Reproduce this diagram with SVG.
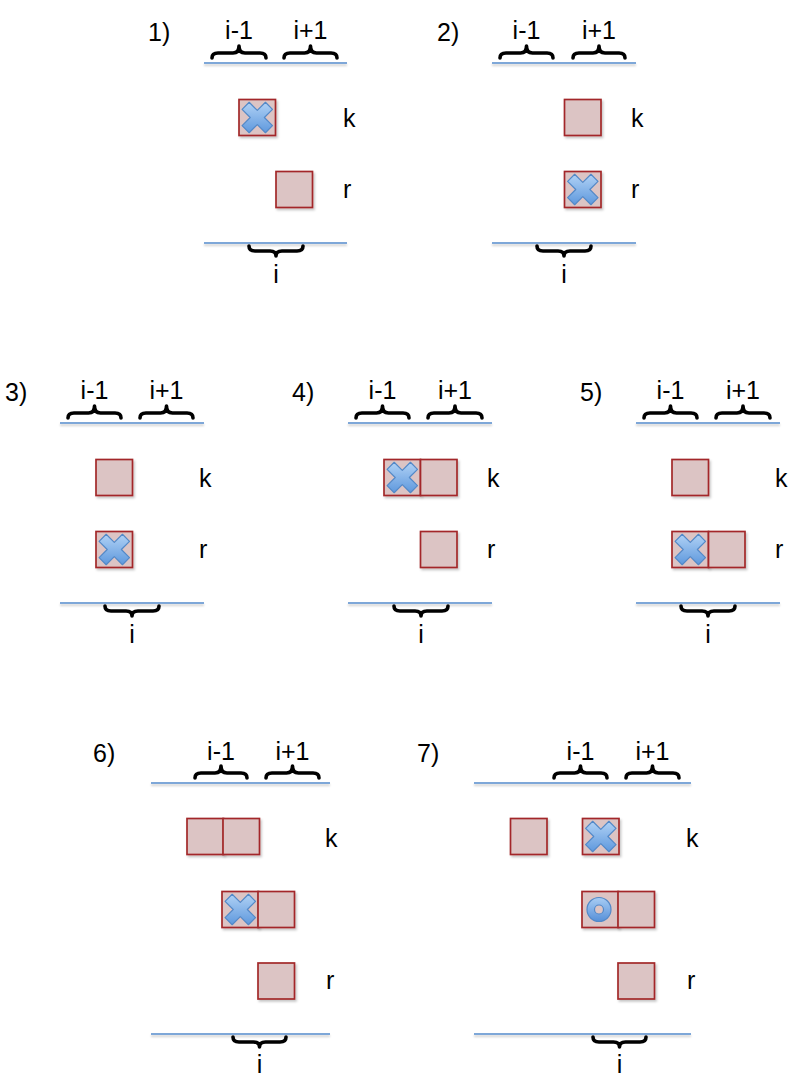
<svg xmlns="http://www.w3.org/2000/svg" xmlns:xlink="http://www.w3.org/1999/xlink" width="799" height="1087" viewBox="0 0 799 1087">
<style>
text{font-family:"Liberation Sans",Arial,sans-serif;font-size:25px;fill:#000}
.m{text-anchor:middle}
.ln{stroke:#7ea7d8;stroke-width:1.8;fill:none}
.br{stroke:#000;stroke-width:3.6;fill:none;stroke-linecap:round;stroke-linejoin:round}
.bx{fill:#dcc4c4;stroke:#a3282a;stroke-width:1.7;filter:url(#sh)}
</style>
<defs>
<filter id="sh" x="-20%" y="-20%" width="150%" height="150%"><feDropShadow dx="1.5" dy="2" stdDeviation="1.2" flood-color="#000" flood-opacity="0.22"/></filter>
<filter id="lsh" x="-5%" y="-200%" width="110%" height="500%"><feDropShadow dx="0" dy="2" stdDeviation="1" flood-color="#000" flood-opacity="0.18"/></filter>
<linearGradient id="bg" x1="0" y1="0" x2="0" y2="1" gradientTransform="rotate(-45 .5 .5)"><stop offset="0" stop-color="#b4d4f6"/><stop offset="1" stop-color="#5b96dc"/></linearGradient>
<linearGradient id="og" x1="0" y1="0" x2="0" y2="1"><stop offset="0" stop-color="#a9cdf4"/><stop offset="1" stop-color="#5690d8"/></linearGradient>
<g id="xm"><path transform="rotate(45)" d="M5,-16.5 L5,-5 L16.5,-5 L16.5,5 L5,5 L5,16.5 L-5,16.5 L-5,5 L-16.5,5 L-16.5,-5 L-5,-5 L-5,-16.5 Z" fill="url(#bg)" stroke="#5389c8" stroke-width="1.2" stroke-linejoin="round"/></g>
<g id="om"><path d="M0,-12 A12,12 0 1,1 0,12 A12,12 0 1,1 0,-12 Z M0,-4.5 A4.5,4.5 0 1,0 0,4.5 A4.5,4.5 0 1,0 0,-4.5 Z" fill="url(#og)" fill-rule="evenodd" stroke="#5389c8" stroke-width="1.2"/></g>
</defs>
<rect width="799" height="1087" fill="#fff"/>

<g id="connectors">
<g filter="url(#lsh)">
<line class="ln" x1="204" y1="63" x2="347" y2="63"/><line class="ln" x1="204" y1="243" x2="347" y2="243"/>
<line class="ln" x1="492" y1="63" x2="636" y2="63"/><line class="ln" x1="492" y1="243" x2="636" y2="243"/>
<line class="ln" x1="60" y1="423" x2="204" y2="423"/><line class="ln" x1="60" y1="603" x2="204" y2="603"/>
<line class="ln" x1="348" y1="423" x2="492" y2="423"/><line class="ln" x1="348" y1="603" x2="492" y2="603"/>
<line class="ln" x1="636" y1="423" x2="780" y2="423"/><line class="ln" x1="636" y1="603" x2="780" y2="603"/>
<line class="ln" x1="151" y1="783" x2="330" y2="783"/><line class="ln" x1="151" y1="1034" x2="330" y2="1034"/>
<line class="ln" x1="474" y1="783" x2="691" y2="783"/><line class="ln" x1="474" y1="1034" x2="691" y2="1034"/>
</g>
</g>

<g id="panel1">
<text x="148" y="41">1)</text>
<text class="m" x="239" y="39">i-1</text><text class="m" x="310.5" y="39">i+1</text>
<path class="br" d="M212 58 Q212 53 218 53 H233 Q239 53 239 46 Q239 53 245 53 H260 Q266 53 266 58"/>
<path class="br" d="M284 58 Q284 53 290 53 H304.5 Q310.5 53 310.5 46 Q310.5 53 316.5 53 H331 Q337 53 337 58"/>
<rect class="bx" x="239" y="99.5" width="36.5" height="36"/><use xlink:href="#xm" x="257.3" y="117.5"/>
<rect class="bx" x="276" y="171.5" width="36.5" height="36"/>
<text x="343" y="127">k</text><text x="343" y="198">r</text>
<path class="br" d="M249 246 Q249 251 255 251 H270 Q276 251 276 256 Q276 251 282 251 H297 Q303 251 303 246"/>
<text class="m" x="276" y="283">i</text>
</g>

<g id="panel2">
<text x="437" y="41">2)</text>
<text class="m" x="526.5" y="39">i-1</text><text class="m" x="599" y="39">i+1</text>
<path class="br" d="M500 58 Q500 53 506 53 H520.5 Q526.5 53 526.5 46 Q526.5 53 532.5 53 H547 Q553 53 553 58"/>
<path class="br" d="M573 58 Q573 53 579 53 H593 Q599 53 599 46 Q599 53 605 53 H619 Q625 53 625 58"/>
<rect class="bx" x="564.5" y="99.5" width="36.5" height="36"/>
<rect class="bx" x="564.5" y="171.5" width="36.5" height="36"/><use xlink:href="#xm" x="582.8" y="189.5"/>
<text x="631" y="127">k</text><text x="631" y="198">r</text>
<path class="br" d="M537 246 Q537 251 543 251 H558 Q564 251 564 256 Q564 251 570 251 H585 Q591 251 591 246"/>
<text class="m" x="564" y="283">i</text>
</g>

<g id="panel3">
<text x="5" y="401">3)</text>
<text class="m" x="94.5" y="399">i-1</text><text class="m" x="166.5" y="399">i+1</text>
<path class="br" d="M68 418 Q68 413 74 413 H88.5 Q94.5 413 94.5 406 Q94.5 413 100.5 413 H115 Q121 413 121 418"/>
<path class="br" d="M140 418 Q140 413 146 413 H160.5 Q166.5 413 166.5 406 Q166.5 413 172.5 413 H187 Q193 413 193 418"/>
<rect class="bx" x="96" y="459.5" width="36.5" height="36"/>
<rect class="bx" x="96" y="531.5" width="36.5" height="36"/><use xlink:href="#xm" x="114.3" y="549.5"/>
<text x="199" y="487">k</text><text x="199" y="558">r</text>
<path class="br" d="M105 606 Q105 611 111 611 H126 Q132 611 132 616 Q132 611 138 611 H153 Q159 611 159 606"/>
<text class="m" x="132" y="643">i</text>
</g>

<g id="panel4">
<text x="292" y="401">4)</text>
<text class="m" x="382.5" y="399">i-1</text><text class="m" x="455" y="399">i+1</text>
<path class="br" d="M356 418 Q356 413 362 413 H376.5 Q382.5 413 382.5 406 Q382.5 413 388.5 413 H403 Q409 413 409 418"/>
<path class="br" d="M428 418 Q428 413 434 413 H449 Q455 413 455 406 Q455 413 461 413 H476 Q482 413 482 418"/>
<rect class="bx" x="384" y="459.5" width="36.5" height="36"/><use xlink:href="#xm" x="402.3" y="477.5"/>
<rect class="bx" x="420.5" y="459.5" width="36.5" height="36"/>
<rect class="bx" x="420.5" y="531.5" width="36.5" height="36"/>
<text x="487" y="487">k</text><text x="487" y="558">r</text>
<path class="br" d="M394 606 Q394 611 400 611 H415 Q421 611 421 616 Q421 611 427 611 H442 Q448 611 448 606"/>
<text class="m" x="421" y="643">i</text>
</g>

<g id="panel5">
<text x="580" y="401">5)</text>
<text class="m" x="670.5" y="399">i-1</text><text class="m" x="743" y="399">i+1</text>
<path class="br" d="M644 418 Q644 413 650 413 H664.5 Q670.5 413 670.5 406 Q670.5 413 676.5 413 H691 Q697 413 697 418"/>
<path class="br" d="M716 418 Q716 413 722 413 H737 Q743 413 743 406 Q743 413 749 413 H764 Q770 413 770 418"/>
<rect class="bx" x="672" y="459.5" width="36.5" height="36"/>
<rect class="bx" x="672" y="531.5" width="36.5" height="36"/><use xlink:href="#xm" x="690.3" y="549.5"/>
<rect class="bx" x="708.5" y="531.5" width="36.5" height="36"/>
<text x="775" y="487">k</text><text x="775" y="558">r</text>
<path class="br" d="M681 606 Q681 611 687 611 H702 Q708 611 708 616 Q708 611 714 611 H729 Q735 611 735 606"/>
<text class="m" x="708" y="643">i</text>
</g>

<g id="panel6">
<text x="93" y="762">6)</text>
<text class="m" x="221" y="760">i-1</text><text class="m" x="292.5" y="760">i+1</text>
<path class="br" d="M195 778 Q195 773 201 773 H215 Q221 773 221 766 Q221 773 227 773 H241 Q247 773 247 778"/>
<path class="br" d="M266 778 Q266 773 272 773 H286.5 Q292.5 773 292.5 766 Q292.5 773 298.5 773 H313 Q319 773 319 778"/>
<rect class="bx" x="187" y="818.5" width="36.5" height="36"/>
<rect class="bx" x="223" y="818.5" width="36.5" height="36"/>
<rect class="bx" x="222" y="891.5" width="36.5" height="36"/><use xlink:href="#xm" x="240.3" y="909.5"/>
<rect class="bx" x="258" y="891.5" width="36.5" height="36"/>
<rect class="bx" x="258" y="963" width="36.5" height="36"/>
<text x="325" y="847">k</text><text x="326" y="989">r</text>
<path class="br" d="M233 1037 Q233 1042 239 1042 H253.5 Q259.5 1042 259.5 1047 Q259.5 1042 265.5 1042 H280 Q286 1042 286 1037"/>
<text class="m" x="259.5" y="1073">i</text>
</g>

<g id="panel7">
<text x="417" y="762">7)</text>
<text class="m" x="580.5" y="760">i-1</text><text class="m" x="652.5" y="760">i+1</text>
<path class="br" d="M554 778 Q554 773 560 773 H574.5 Q580.5 773 580.5 766 Q580.5 773 586.5 773 H601 Q607 773 607 778"/>
<path class="br" d="M626 778 Q626 773 632 773 H646.5 Q652.5 773 652.5 766 Q652.5 773 658.5 773 H673 Q679 773 679 778"/>
<rect class="bx" x="510.5" y="818.5" width="36.5" height="36"/>
<rect class="bx" x="582.5" y="818.5" width="36.5" height="36"/><use xlink:href="#xm" x="600.8" y="836.5"/>
<rect class="bx" x="582" y="891.5" width="36.5" height="36"/><use xlink:href="#om" x="599" y="909.5"/>
<rect class="bx" x="618" y="891.5" width="36.5" height="36"/>
<rect class="bx" x="618" y="963" width="36.5" height="36"/>
<text x="686" y="847">k</text><text x="687" y="989">r</text>
<path class="br" d="M593 1037 Q593 1042 599 1042 H613.5 Q619.5 1042 619.5 1047 Q619.5 1042 625.5 1042 H640 Q646 1042 646 1037"/>
<text class="m" x="619.5" y="1073">i</text>
</g>
</svg>
